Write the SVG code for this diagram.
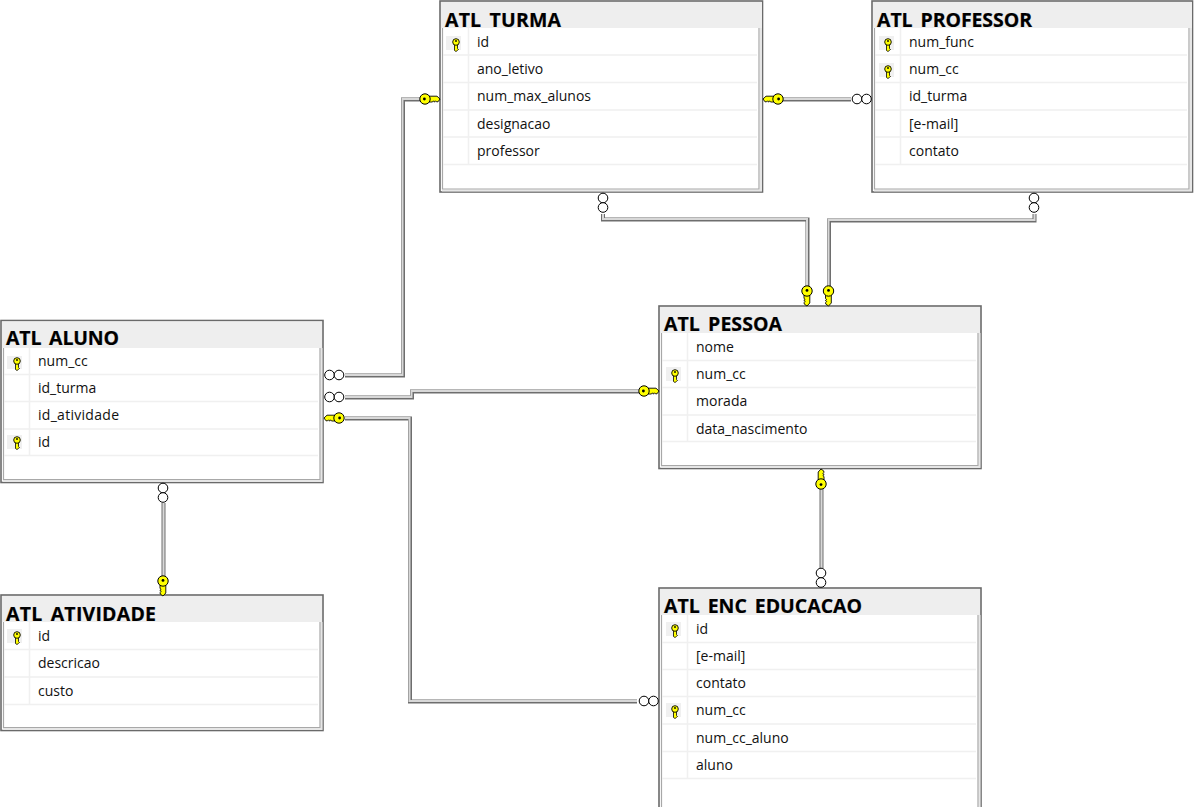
<svg xmlns="http://www.w3.org/2000/svg" xmlns:xlink="http://www.w3.org/1999/xlink" width="1194" height="807" viewBox="0 0 1194 807">
<style>
text{font-family:"Open Sans","Noto Sans","Liberation Sans",sans-serif;fill:#000}
.t{font-size:19.500px;font-weight:700;word-spacing:3px;stroke:#000;stroke-width:.2px}
.f{font-size:14px;fill:#111}
.o{fill:#fff;stroke:#6a6a6a;stroke-width:1.600}
.i{fill:none;stroke:#a8a8a8;stroke-width:1.200}
.b{fill:none;stroke:#e6e6e6;stroke-width:2}
.h{fill:#eee}
.s{stroke:#f0f0f0;stroke-width:1.500;fill:none}
.l1{fill:none;stroke:#6e6e6e;stroke-width:4}
.l2{fill:none;stroke:#d8d8d8;stroke-width:2}
.c{fill:#fff;stroke:#000;stroke-width:1}
.kb{fill:#f0f0f0}
</style>
<defs>
<g id="key"><path d="M2 -2.800H12L15 0L13 2.800H11.500L10.500 1.800L9.500 3.200L8.500 1.800L7.500 3H2Z" fill="#ffff00" stroke="#000" stroke-width=".9"/><circle r="5.200" fill="#ffff00" stroke="#000" stroke-width="1"/><circle cx="-.6" r="1.400" fill="#000"/></g>
<g id="sk"><path d="M-1.500 1H1.500V5.500L2.500 6.500L1.300 7.500L0 8.500L-1.500 7.500Z" fill="#ffff00" stroke="#000" stroke-width=".8"/><circle cy="-1" r="3.300" fill="#ffff00" stroke="#000" stroke-width=".9"/><circle cy="-2" r=".9" fill="#000"/></g>
</defs>
<g id="atl-aluno">
<rect class="o" x="1" y="320.500" width="322" height="162"/><rect class="h" x="2" y="321.500" width="320" height="26.500"/>
<path class="b" d="M321.500 348V481H3"/>
<path class="i" d="M3.500 348V479.500H320V348"/>
<path class="s" d="M4 374.500H318M4 401.500H318M4 429H318M4 455.500H318M29.500 348V455"/>
<rect class="kb" x="7" y="356" width="15" height="13"/><rect class="kb" x="7" y="435" width="15" height="14"/>
<use xlink:href="#sk" x="17" y="362"/><use xlink:href="#sk" x="17" y="441"/>
<text class="t" x="6" y="345" textLength="113">ATL ALUNO</text>
<text class="f" x="38" y="366">num_cc</text><text class="f" x="38" y="393">id_turma</text><text class="f" x="38" y="420" textLength="81">id_atividade</text><text class="f" x="38" y="447">id</text>
</g>
<g id="atl-turma">
<rect class="o" x="440" y="1" width="322.500" height="191"/><rect class="h" x="441" y="2" width="321" height="26"/>
<path class="b" d="M761 28V190.500H442"/>
<path class="i" d="M442.500 28V189H759V28"/>
<path class="s" d="M443 55H757M443 82.500H757M443 110H757M443 137H757M443 164.500H757M468.500 28V164"/>
<rect class="kb" x="446" y="36" width="15" height="14"/>
<use xlink:href="#sk" x="456" y="43"/>
<text class="t" x="445" y="27" textLength="116">ATL TURMA</text>
<text class="f" x="477" y="47">id</text><text class="f" x="477" y="74">ano_letivo</text><text class="f" x="477" y="101">num_max_alunos</text><text class="f" x="477" y="129">designacao</text><text class="f" x="477" y="156">professor</text>
</g>
<g id="atl-professor">
<rect class="o" x="872" y="1" width="320.500" height="191"/><rect class="h" x="873" y="2" width="319" height="26"/>
<path class="b" d="M1191 28V190.500H874"/>
<path class="i" d="M874.500 28V189H1189V28"/>
<path class="s" d="M875 55H1187M875 82.500H1187M875 110H1187M875 137H1187M875 164.500H1187M900.500 28V164"/>
<rect class="kb" x="879" y="36" width="15" height="14"/><rect class="kb" x="879" y="63" width="15" height="14"/>
<use xlink:href="#sk" x="888" y="43"/><use xlink:href="#sk" x="888" y="70"/>
<text class="t" x="877" y="27" textLength="155">ATL PROFESSOR</text>
<text class="f" x="909" y="47">num_func</text><text class="f" x="909" y="74">num_cc</text><text class="f" x="909" y="101">id_turma</text><text class="f" x="909" y="129">[e-mail]</text><text class="f" x="909" y="156">contato</text>
</g>
<g id="atl-pessoa">
<rect class="o" x="659" y="306" width="322" height="162.500"/><rect class="h" x="660" y="307" width="320" height="26"/>
<path class="b" d="M979.500 333V467H661"/>
<path class="i" d="M661.500 333V465.500H978V333"/>
<path class="s" d="M662 360.500H976M662 387.500H976M662 415H976M662 441.500H976M687.500 333V441"/>
<rect class="kb" x="666" y="367" width="15" height="14"/>
<use xlink:href="#sk" x="675" y="374"/>
<text class="t" x="664" y="331" textLength="118">ATL PESSOA</text>
<text class="f" x="696" y="352">nome</text><text class="f" x="696" y="379">num_cc</text><text class="f" x="696" y="406">morada</text><text class="f" x="696" y="434">data_nascimento</text>
</g>
<g id="atl-atividade">
<rect class="o" x="1" y="595" width="322" height="135.500"/><rect class="h" x="2" y="596" width="320" height="26"/>
<path class="b" d="M321.500 622V729H3"/>
<path class="i" d="M3.500 622V727.500H320V622"/>
<path class="s" d="M4 649.500H318M4 677H318M4 704.500H318M29.500 622V704"/>
<rect class="kb" x="7" y="629" width="15" height="14"/>
<use xlink:href="#sk" x="17" y="636"/>
<text class="t" x="6" y="621" textLength="150">ATL ATIVIDADE</text>
<text class="f" x="38" y="641">id</text><text class="f" x="38" y="668">descricao</text><text class="f" x="38" y="696">custo</text>
</g>
<g id="atl-enc-educacao">
<rect class="o" x="659" y="588" width="322" height="225"/><rect class="h" x="660" y="589" width="320" height="26"/>
<path class="b" d="M979.500 615V810"/>
<path class="i" d="M661.500 615V810M978 615V810"/>
<path class="s" d="M662 642.500H976M662 669.500H976M662 696.500H976M662 724H976M662 751.500H976M662 778.500H976M687.500 615V778"/>
<rect class="kb" x="666" y="622" width="15" height="14"/><rect class="kb" x="666" y="703" width="15" height="14"/>
<use xlink:href="#sk" x="675" y="629"/><use xlink:href="#sk" x="675" y="710"/>
<text class="t" x="664" y="613" textLength="198">ATL ENC EDUCACAO</text>
<text class="f" x="696" y="634">id</text><text class="f" x="696" y="661">[e-mail]</text><text class="f" x="696" y="688">contato</text><text class="f" x="696" y="715">num_cc</text><text class="f" x="696" y="743">num_cc_aluno</text><text class="f" x="696" y="770">aluno</text>
</g>
<g id="connectors">
<path class="l1" d="M345 375.500H403V99.500H425"/><path class="l2" d="M345 375H402.500V99H425"/>
<path class="l1" d="M345 397.500H412V391.500H645"/><path class="l2" d="M345 397H411.500V391H645"/>
<path class="l1" d="M345 418.500H410V701.500H637"/><path class="l2" d="M345 418H409.500V701H637"/>
<path class="l1" d="M780 99.500H851"/><path class="l2" d="M780 99H851"/>
<path class="l1" d="M603 214V219.500H807.500V288"/><path class="l2" d="M603 214V219H807V288"/>
<path class="l1" d="M1034.500 214V220.500H829V288"/><path class="l2" d="M1034.500 214V220H828.500V288"/>
<path class="l1" d="M821.500 486V568"/><path class="l2" d="M821.500 486V568"/>
<path class="l1" d="M163.500 503V580"/><path class="l2" d="M163.500 503V580"/>
<circle class="c" cx="329.500" cy="375" r="4.800"/><circle class="c" cx="339" cy="375" r="4.800"/>
<circle class="c" cx="329.500" cy="397" r="4.800"/><circle class="c" cx="339" cy="397" r="4.800"/>
<circle class="c" cx="644" cy="701" r="4.800"/><circle class="c" cx="653.500" cy="701" r="4.800"/>
<circle class="c" cx="857" cy="99" r="4.800"/><circle class="c" cx="866.500" cy="99" r="4.800"/>
<circle class="c" cx="603" cy="198" r="4.800"/><circle class="c" cx="603" cy="207.500" r="4.800"/>
<circle class="c" cx="1034" cy="198" r="4.800"/><circle class="c" cx="1034" cy="207.500" r="4.800"/>
<circle class="c" cx="821" cy="573" r="4.800"/><circle class="c" cx="821" cy="582.500" r="4.800"/>
<circle class="c" cx="163" cy="488" r="4.800"/><circle class="c" cx="163" cy="497.500" r="4.800"/>
<use xlink:href="#key" transform="translate(425 99)"/>
<use xlink:href="#key" transform="translate(644 391)"/>
<use xlink:href="#key" transform="translate(339 418) scale(-1 1)"/>
<use xlink:href="#key" transform="translate(778 99) scale(-1 1)"/>
<use xlink:href="#key" transform="translate(807 291) rotate(90)"/>
<use xlink:href="#key" transform="translate(828.500 291) rotate(90)"/>
<use xlink:href="#key" transform="translate(821 484) rotate(-90)"/>
<use xlink:href="#key" transform="translate(163 581) rotate(90)"/>
</g>
</svg>
